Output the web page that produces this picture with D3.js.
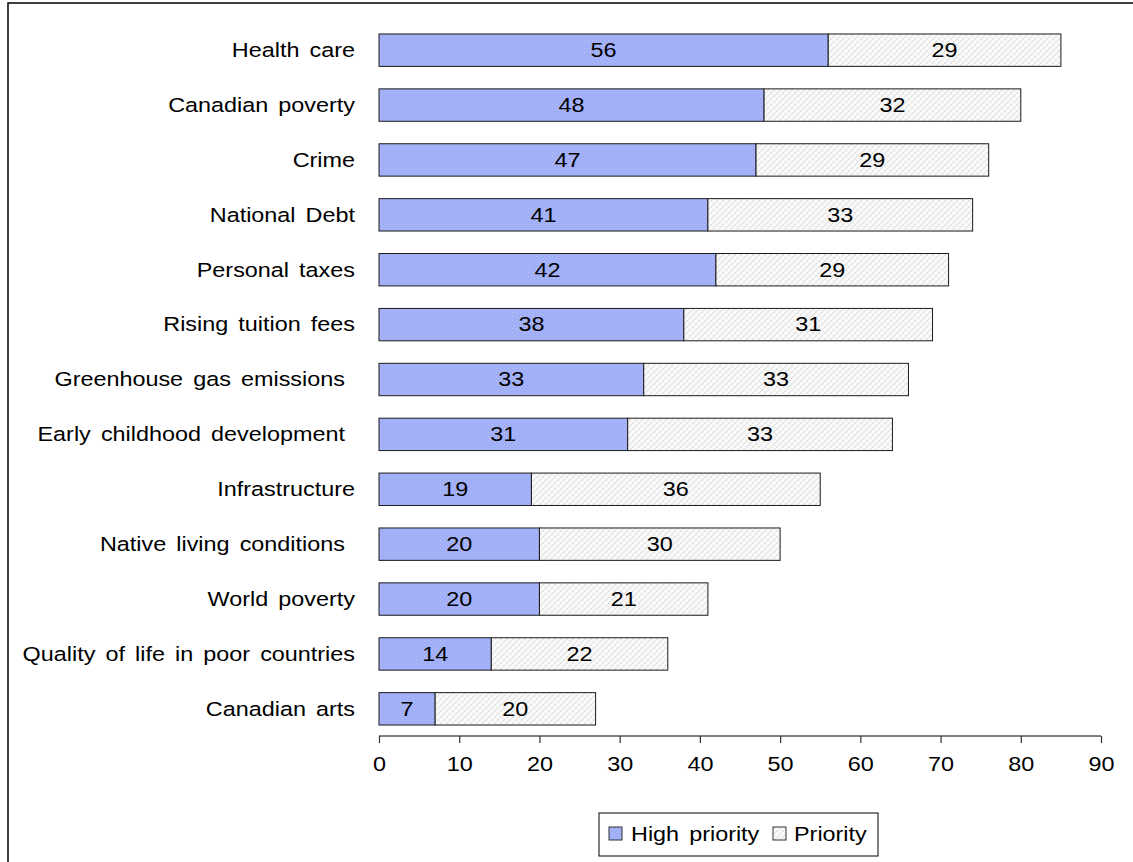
<!DOCTYPE html>
<html><head><meta charset="utf-8">
<script src="https://cdn.jsdelivr.net/npm/d3@7"></script>
<style>body{margin:0;background:#fff}svg{display:block}text{font-family:"Liberation Sans",Arial,sans-serif}</style>
</head><body>
<svg id="c" width="1133" height="862"></svg>
<script>
const categories = ["Health care","Canadian poverty","Crime","National Debt","Personal taxes","Rising tuition fees","Greenhouse gas emissions ","Early childhood development ","Infrastructure","Native living conditions ","World poverty","Quality of life in poor countries","Canadian arts"];
const highPriority = [56,48,47,41,42,38,33,31,19,20,20,14,7];
const priority = [29,32,29,33,29,31,33,33,36,30,21,22,20];
const seriesNames = ["High priority","Priority"];
const xTicks = [0,10,20,30,40,50,60,70,80,90];

const FS = 19.5, SX = 1.2;
const svg = d3.select("#c");
const defs = svg.append("defs");
const pb = defs.append("pattern").attr("id","pBlue").attr("width",4).attr("height",4).attr("patternUnits","userSpaceOnUse");
pb.append("rect").attr("width",4).attr("height",4).attr("fill","#a0aef7");
pb.append("rect").attr("x",0).attr("y",0).attr("width",1).attr("height",1).attr("fill","#b8c3fa");
pb.append("rect").attr("x",2).attr("y",2).attr("width",1).attr("height",1).attr("fill","#b8c3fa");
const pg = defs.append("pattern").attr("id","pGray").attr("width",6).attr("height",6).attr("patternUnits","userSpaceOnUse");
pg.append("rect").attr("width",6).attr("height",6).attr("fill","#fafafa");
pg.append("path").attr("d","M0,6 L6,0 M-1,1 L1,-1 M5,7 L7,5").attr("stroke","#d6d6d6").attr("stroke-width",0.8);
pg.append("path").attr("d","M0,0 L6,6").attr("stroke","#e8e8e8").attr("stroke-width",0.6);

// outer border
svg.append("rect").attr("x",8).attr("y",3).attr("width",1140).attr("height",880).attr("fill","none").attr("stroke","#000").attr("stroke-width",1.5);

const x = d3.scaleLinear().domain([0,90]).range([379,1101]);
const y = d3.scaleBand().domain(categories).range([23,736]).paddingInner(0.41).paddingOuter(0.2);

function label(sel, tx, ty, anchor, txt){
  sel.append("text").attr("transform",`translate(${tx},${ty}) scale(${SX},1)`)
    .attr("dy","0.35em").attr("text-anchor",anchor).attr("font-size",FS)
    .style("white-space","pre").style("word-spacing","3px").text(txt);
}

const rows = categories.map((c,i)=>({c, h:highPriority[i], p:priority[i]}));
const g = svg.append("g");
g.selectAll(".hb").data(rows).join("rect")
  .attr("x",x(0)).attr("y",d=>y(d.c)).attr("width",d=>x(d.h)-x(0)).attr("height",y.bandwidth())
  .attr("fill","url(#pBlue)").attr("stroke","#1a1a1a").attr("stroke-width",1);
g.selectAll(".pb").data(rows).join("rect")
  .attr("x",d=>x(d.h)).attr("y",d=>y(d.c)).attr("width",d=>x(d.h+d.p)-x(d.h)).attr("height",y.bandwidth())
  .attr("fill","url(#pGray)").attr("stroke","#1a1a1a").attr("stroke-width",1);
rows.forEach(d=>{
  const yc = y(d.c)+y.bandwidth()/2;
  label(g,(x(0)+x(d.h))/2,yc,"middle",d.h);
  label(g,(x(d.h)+x(d.h+d.p))/2,yc,"middle",d.p);
  label(g,355,yc,"end",d.c);
});

const ax = svg.append("g").attr("transform","translate(0,736)")
  .call(d3.axisBottom(x).tickValues(xTicks).tickSize(7).tickPadding(14).tickSizeOuter(0));
ax.select(".domain").attr("stroke","#000").attr("stroke-width",1.2).attr("d","M379,0H1101");
ax.selectAll(".tick line").attr("stroke","#333").attr("stroke-width",1.2);
ax.selectAll("text").attr("font-size",FS).attr("font-family","Liberation Sans, Arial, sans-serif").attr("fill","#000")
  .attr("transform",`scale(${SX},1)`);

// legend
const lg = svg.append("g");
lg.append("rect").attr("x",599).attr("y",813).attr("width",279).attr("height",43).attr("fill","#fff").attr("stroke","#000").attr("stroke-width",1);
const items = [{n:seriesNames[0],f:"url(#pBlue)",x:609,tx:631},{n:seriesNames[1],f:"url(#pGray)",x:773,tx:794}];
items.forEach(it=>{
  lg.append("rect").attr("x",it.x).attr("y",827).attr("width",13).attr("height",13).attr("fill",it.f).attr("stroke","#333").attr("stroke-width",1);
  label(lg,it.tx,834,"start",it.n);
});
</script>
</body></html>
